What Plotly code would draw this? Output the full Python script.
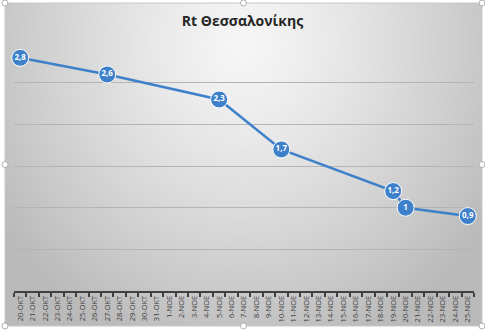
import plotly.graph_objects as go
import zlib, struct, base64, math

# ---------------- data ----------------
categories = ["20-OKT", "21-OKT", "22-OKT", "23-OKT", "24-OKT", "25-OKT", "26-OKT",
              "27-OKT", "28-OKT", "29-OKT", "30-OKT", "31-OKT",
              "1-NOE", "2-NOE", "3-NOE", "4-NOE", "5-NOE", "6-NOE", "7-NOE", "8-NOE",
              "9-NOE", "10-NOE", "11-NOE", "12-NOE", "13-NOE", "14-NOE", "15-NOE",
              "16-NOE", "17-NOE", "18-NOE", "19-NOE", "20-NOE", "21-NOE", "22-NOE",
              "23-NOE", "24-NOE", "25-NOE"]
point_dates = ["20-OKT", "27-OKT", "5-NOE", "10-NOE", "19-NOE", "20-NOE", "25-NOE"]
rt_values = [2.8, 2.6, 2.3, 1.7, 1.2, 1.0, 0.9]
rt_labels = ["2,8", "2,6", "2,3", "1,7", "1,2", "1", "0,9"]
title_text = "Rt Θεσσαλονίκης"

W, H = 485, 332

# ---------------- gradient background image (style only) ----------------
def make_png(w, h):
    rows = []
    c0 = (246, 246, 246)
    c1 = (186, 186, 186)
    for j in range(h):
        row = bytearray([0])
        for i in range(w):
            dx = (i / (w - 1) - 0.5) / 0.62
            dy = (j / (h - 1) - 0.12) / 1.0
            t = min(1.0, math.sqrt(dx * dx + dy * dy))
            t = t ** 1.25
            for k in range(3):
                row.append(int(round(c0[k] + (c1[k] - c0[k]) * t)))
        rows.append(bytes(row))
    raw = b"".join(rows)

    def chunk(tag, data):
        c = struct.pack(">I", len(data)) + tag + data
        return c + struct.pack(">I", zlib.crc32(tag + data) & 0xffffffff)

    png = b"\x89PNG\r\n\x1a\n"
    png += chunk(b"IHDR", struct.pack(">IIBBBBB", w, h, 8, 2, 0, 0, 0))
    png += chunk(b"IDAT", zlib.compress(raw, 9))
    png += chunk(b"IEND", b"")
    return "data:image/png;base64," + base64.b64encode(png).decode()

bg_src = make_png(160, 110)

# chart area in pixels
cx0, cx1, cy0, cy1 = 5, 482, 3, 326
def px(x):
    return x / W
def py(y):
    return 1 - y / H

fig = go.Figure()
fig.add_trace(go.Scatter(
    x=point_dates, y=rt_values, text=rt_labels,
    mode="lines+markers+text",
    line=dict(color="#3e80ca", width=2.5),
    marker=dict(size=17, color="#3e80ca", line=dict(color="#ffffff", width=1)),
    textposition="middle center",
    textfont=dict(color="#ffffff", size=8, family="Open Sans", weight="bold"),
    cliponaxis=False,
    hoverinfo="skip",
    showlegend=False,
))

fig.add_layout_image(dict(
    source=bg_src, xref="paper", yref="paper",
    x=px(cx0), y=py(cy0), sizex=px(cx1) - px(cx0), sizey=py(cy0) - py(cy1),
    sizing="stretch", layer="below", xanchor="left", yanchor="top",
))

shapes = [
    dict(type="rect", xref="paper", yref="paper",
         x0=px(cx0), x1=px(cx1), y0=py(cy1), y1=py(cy0),
         line=dict(color="#c8c8c8", width=1), fillcolor="rgba(0,0,0,0)", layer="below"),
]
# selection handles
for hx, hy in [(cx0, cy0), ((cx0 + cx1) / 2, cy0), (cx1, cy0), (cx0, (cy0 + cy1) / 2),
               (cx1, (cy0 + cy1) / 2), (cx0, cy1), ((cx0 + cx1) / 2, cy1), (cx1, cy1)]:
    shapes.append(dict(type="circle", xref="paper", yref="paper",
                       x0=px(hx - 3), x1=px(hx + 3), y0=py(hy + 3), y1=py(hy - 3),
                       line=dict(color="#b0b0b0", width=1), fillcolor="#ffffff", layer="above"))

fig.update_layout(
    width=W, height=H,
    margin=dict(l=0, r=0, t=0, b=0),
    paper_bgcolor="#ffffff",
    plot_bgcolor="rgba(0,0,0,0)",
    shapes=shapes,
    title=dict(text=title_text, x=0.5, xanchor="center", y=py(21), yanchor="middle",
               font=dict(family="Open Sans", size=14, color="#262626", weight="bold")),
    xaxis=dict(
        domain=[px(14), px(474)],
        type="category", categoryorder="array", categoryarray=categories,
        range=[-0.5, len(categories) - 0.5],
        tickmode="array", tickvals=categories, ticktext=categories,
        tickangle=-90, tickfont=dict(family="Open Sans", size=7.5, color="#404040"),
        showline=True, linecolor="#404040", linewidth=1.5,
        ticks="outside", tickson="boundaries", ticklen=4, tickcolor="#404040", tickwidth=1.5,
        showgrid=False, zeroline=False, fixedrange=True,
    ),
    yaxis=dict(
        domain=[py(291), py(41)],
        range=[0, 3.002], dtick=0.5, tick0=0,
        showticklabels=False, showgrid=True, gridcolor="#b4b4b4", gridwidth=1,
        zeroline=False, showline=False, ticks="", fixedrange=True,
    ),
)

fig.write_html("out.html")
